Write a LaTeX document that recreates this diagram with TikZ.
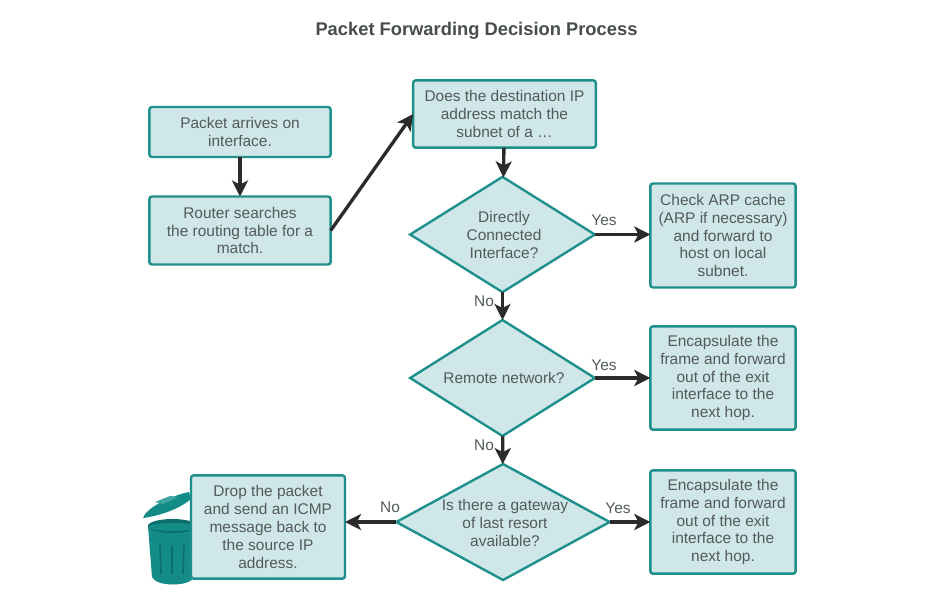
\documentclass[tikz,border=0pt]{standalone}
\usepackage{fontspec}
\setmainfont{Liberation Sans}
\usetikzlibrary{shapes.geometric,arrows.meta}
\definecolor{edgeT}{HTML}{1F8F8C}
\definecolor{fillT}{HTML}{CFE7E8}
\definecolor{inkT}{HTML}{535A5A}
\definecolor{arrT}{HTML}{2B2B2B}
\definecolor{binT}{HTML}{138C88}
\definecolor{binD}{HTML}{0B6E6B}
\definecolor{binL}{HTML}{3FA5A2}
\tikzset{
 x=0.75pt,y=-0.75pt,
 boxT/.style={draw=edgeT,fill=fillT,line width=1.8pt,rounded corners=2pt,inner sep=0pt,outer sep=0pt,align=center,text=inkT,font=\fontsize{11.6}{13.4}\selectfont},
 decT/.style={diamond,draw=edgeT,fill=fillT,line width=1.8pt,inner sep=0pt,outer sep=0pt,aspect=1.6},
 txtT/.style={align=center,text=inkT,inner sep=0pt,font=\fontsize{11.6}{13.4}\selectfont},
 lblT/.style={text=inkT,inner sep=0pt,font=\fontsize{11.6}{13.4}\selectfont},
 arrT/.style={draw=arrT,line width=2.5pt,-{Stealth[inset=3pt,length=12pt,width=12pt]}},
}
\begin{document}
\begin{tikzpicture}
\useasboundingbox (0,0) rectangle (940,597);
\fill[white] (0,0) rectangle (940,597);
\node[text=inkT!85!black,inner sep=0pt,font=\fontsize{13.75}{16}\selectfont\bfseries] (title) at (476.5,31) {Packet Forwarding Decision Process};
% trash bin
\fill[binT] (143,518) .. controls (146,508) and (170,496) .. (189,492) -- (191,499) .. controls (178,510) and (158,516) .. (143,518) -- cycle;
\fill[binL] (155,502) -- (170,496) -- (178,497) -- (163,504) -- cycle;
\fill[binT] (148,526) -- (197,526) -- (194,577) .. controls (190,587) and (156,587) .. (152,577) -- cycle;
\fill[binD] (172.5,526) ellipse (24.5 and 7);
\fill[binT] (172.5,527) ellipse (24 and 4);
\foreach \a/\b in {160/161,172/172,184/183} \draw[binD,line width=1.2pt] (\a,545) -- (\b,574);
% boxes
\node[boxT,minimum width=136pt,minimum height=37.5pt] (arrive) at (240,132) {Packet arrives on\\interface.};
\node[boxT,minimum width=136pt,minimum height=51pt] (search) at (240,230.5) {Router searches\\the routing table for a\\match.};
\node[boxT,minimum width=137pt,minimum height=50.5pt] (match) at (504.5,114) {Does the destination IP\\address match the\\subnet of a …};
\node[boxT,minimum width=109pt,minimum height=78pt] (arp) at (723,235.5) {Check ARP cache\\(ARP if necessary)\\and forward to\\host on local\\subnet.};
\node[boxT,minimum width=109pt,minimum height=77.5pt] (enc1) at (723,378) {Encapsulate the\\frame and forward\\out of the exit\\interface to the\\next hop.};
\node[boxT,minimum width=109pt,minimum height=77.5pt] (enc2) at (723,522) {Encapsulate the\\frame and forward\\out of the exit\\interface to the\\next hop.};
\node[boxT,minimum width=115.5pt,minimum height=77.5pt] (drop) at (268,527) {Drop the packet\\and send an ICMP\\message back to\\the source IP\\address.};
% decisions
\node[decT,minimum width=138.5pt,minimum height=86.5pt] (d1) at (502.5,234.5) {};
\node[txtT] (d1t) at (504,235) {Directly\\Connected\\Interface?};
\node[decT,minimum width=138.5pt,minimum height=87pt] (d2) at (502.5,378) {};
\node[txtT] (d2t) at (504,378) {Remote network?};
\node[decT,aspect=1.85,minimum width=160pt,minimum height=87pt] (d3) at (503,522) {};
\node[txtT] (d3t) at (505,523) {Is there a gateway\\of last resort\\available?};
% connectors
\draw[arrT] (arrive) -- (search);
\draw[arrT] (search.east) -- (match.west);
\draw[arrT] (match) -- (d1);
\draw[arrT] (d1) -- (d2);
\draw[arrT] (d2) -- (d3);
\draw[arrT] (d1.east) -- (arp.west |- d1.east);
\draw[arrT] (d2) -- (enc1);
\draw[arrT] (d3) -- (enc2);
\draw[arrT] (d3.west) -- (drop.east |- d3.west);
% labels
\node[lblT] (y1) at (604,220) {Yes};
\node[lblT] (y2) at (604,365) {Yes};
\node[lblT] (y3) at (618,508) {Yes};
\node[lblT] (n1) at (484,301) {No};
\node[lblT] (n2) at (484,445) {No};
\node[lblT] (n3) at (390,507) {No};
\end{tikzpicture}
\end{document}
